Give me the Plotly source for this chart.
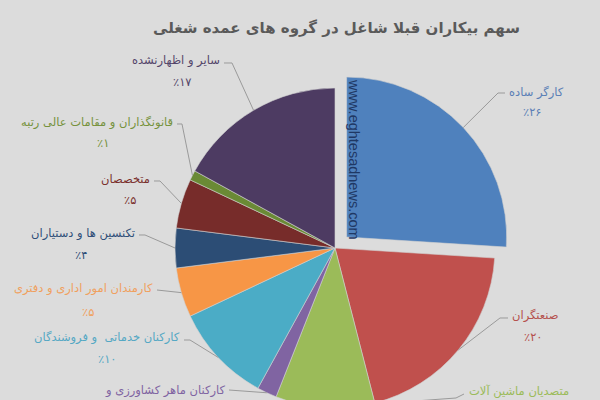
import math
import plotly.graph_objects as go

# ---------------- data ----------------
labels = [
    "کارگر ساده",
    "صنعتگران",
    "متصدیان ماشین آلات",
    "کارکنان ماهر کشاورزی و",
    "کارکنان خدماتی  و فروشندگان",
    "کارمندان امور اداری و دفتری",
    "تکنسین ها و دستیاران",
    "متخصصان",
    "قانونگذاران و مقامات عالی رتبه",
    "سایر و اظهارنشده",
]
values = [26, 20, 10, 2, 10, 5, 4, 5, 1, 17]
pct_text = ["٪۲۶", "٪۲۰", "", "", "٪۱۰", "٪۵", "٪۴", "٪۵", "٪۱", "٪۱۷"]
title_text = "سهم بیکاران قبلا شاغل در گروه های عمده شغلی"
watermark = "www.eghtesadnews.com"

# ---------------- styles / layout ----------------
slice_colors = ["#4F81BD", "#C0504D", "#9BBB59", "#8064A2", "#4BACC6",
                "#F79646", "#2C4D75", "#772C2A", "#6A8A35", "#4D3B62"]
text_colors = ["#5B7FB6", "#B5504D", "#9BBB59", "#8064A2", "#55A8C4",
               "#F0A05E", "#2F4E78", "#7A302D", "#76923C", "#54466A"]
pulls = [0.1, 0, 0, 0, 0, 0, 0, 0, 0, 0]

W, H = 600, 430
CX, CY, R = 335, 248, 160          # pie centre / radius in px
# label layout: (text x, text y, xanchor, pct x, pct y, elbow points)
label_pos = [
    (507, 92, "left", 532, 112, [(505, 93), (498, 93)]),
    (510, 315, "left", 533, 337, [(508, 318), (500, 318)]),
    (467, 391, "left", None, None, [(464, 394), (456, 398)]),
    (227, 390, "right", None, None, [(229, 390)]),
    (182, 337, "right", 107, 359, [(184, 340), (190, 340)]),
    (155, 288, "right", 88, 312, [(157, 290)]),
    (137, 233, "right", 81, 255, [(139, 235), (145, 235)]),
    (152, 179, "right", 130, 200, [(154, 181), (160, 181)]),
    (175, 122, "right", 103, 143, [(177, 124), (182, 124)]),
    (222, 61, "right", 182, 82, [(224, 63), (232, 63)]),
]


def px(x):
    return x / W


def py(y):
    return (H - y) / H


maxpull = max(pulls)
half = R * (1 + maxpull)

fig = go.Figure(go.Pie(
    labels=labels,
    values=values,
    sort=False,
    direction="clockwise",
    rotation=0,
    pull=pulls,
    textinfo="none",
    hoverinfo="label+percent",
    marker=dict(colors=slice_colors, line=dict(color="#d0d0d0", width=0.6)),
    domain=dict(x=[px(CX - half), px(CX + half)], y=[py(CY + half), py(CY - half)]),
    showlegend=False,
))

annotations = []
shapes = []
total = sum(values)
cum = 0
for i, v in enumerate(values):
    mid = (cum + v / 2) / total * 2 * math.pi
    cum += v
    off = pulls[i] * R
    ax_ = CX + (R + off) * math.sin(mid)
    ay_ = CY - (R + off) * math.cos(mid)
    tx, ty, xa, pxx, pyy, elbow = label_pos[i]
    annotations.append(dict(
        x=px(tx), y=py(ty), xref="paper", yref="paper", text=labels[i],
        showarrow=False, xanchor=xa, yanchor="middle",
        font=dict(family="DejaVu Sans", size=11.5, color=text_colors[i]),
    ))
    if pxx is not None and pct_text[i]:
        annotations.append(dict(
            x=px(pxx), y=py(pyy), xref="paper", yref="paper", text=pct_text[i],
            showarrow=False, xanchor="center", yanchor="middle",
            font=dict(family="DejaVu Sans", size=11.5, color=text_colors[i]),
        ))
    pts = list(elbow) + [(ax_, ay_)]
    path = "M " + " L ".join(f"{px(x):.5f},{py(y):.5f}" for x, y in pts)
    shapes.append(dict(type="path", path=path, xref="paper", yref="paper",
                       line=dict(color="#9a9a9a", width=1)))

annotations.append(dict(
    x=px(336), y=py(28), xref="paper", yref="paper", text=title_text,
    showarrow=False, xanchor="center", yanchor="middle",
    font=dict(family="DejaVu Sans", size=15, color="#5a5a5a", weight="bold"),
))
annotations.append(dict(
    x=px(354), y=py(159), xref="paper", yref="paper", text=watermark,
    showarrow=False, textangle=90, xanchor="center", yanchor="middle",
    font=dict(family="Liberation Sans", size=14.5, color="#1F3864"),
))

fig.update_layout(
    width=W, height=H,
    margin=dict(l=0, r=0, t=0, b=0),
    paper_bgcolor="#DCDCDC",
    plot_bgcolor="#DCDCDC",
    annotations=annotations,
    shapes=shapes,
)

fig.write_html(
    "out.html",
    config={"displayModeBar": False},
    post_script="document.body.style.margin='0';document.body.style.overflow='hidden';"
                "document.documentElement.style.overflow='hidden';"
                "document.body.style.background='#DCDCDC';",
)
